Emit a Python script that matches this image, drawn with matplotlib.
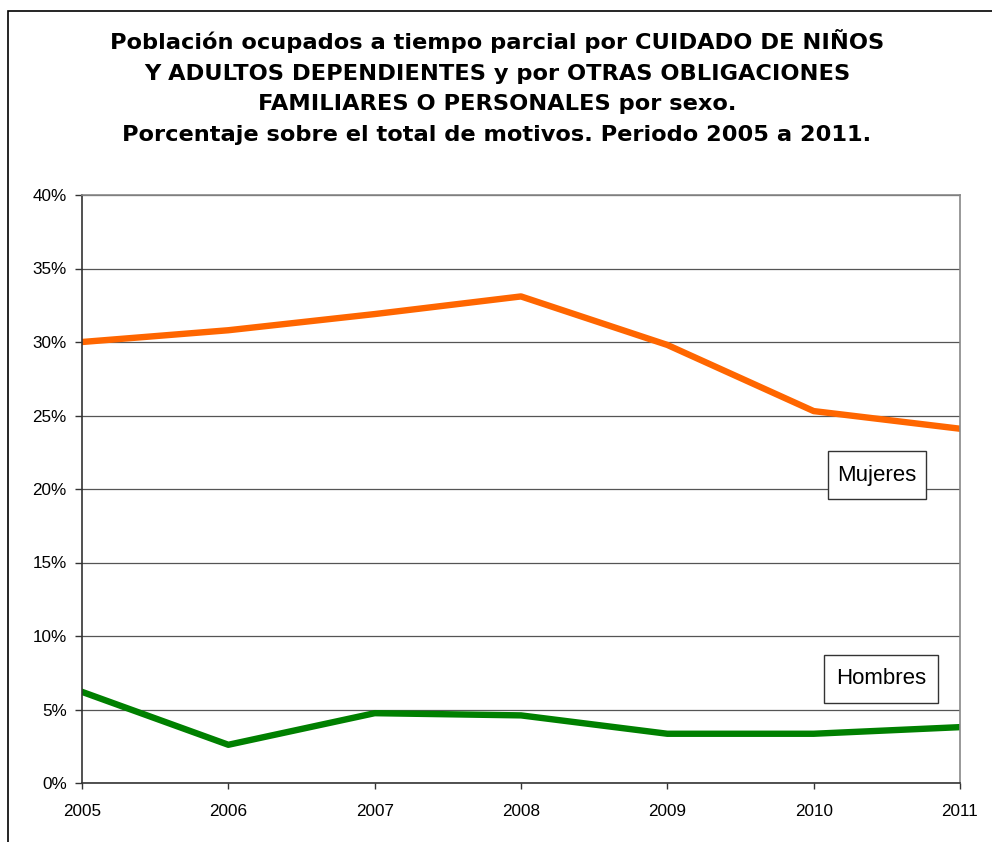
import matplotlib.pyplot as plt
from matplotlib.patches import Rectangle
from matplotlib.ticker import FuncFormatter

plt.rcParams["font.family"] = ["Liberation Sans", "DejaVu Sans"]

anios = [2005, 2006, 2007, 2008, 2009, 2010, 2011]
mujeres = [30.0, 30.8, 31.9, 33.1, 29.8, 25.3, 24.1]
hombres = [6.2, 2.6, 4.75, 4.6, 3.35, 3.35, 3.8]

titulo = ("Población ocupados a tiempo parcial por CUIDADO DE NIÑOS\n"
          "Y ADULTOS DEPENDIENTES y por OTRAS OBLIGACIONES\n"
          "FAMILIARES O PERSONALES por sexo.\n"
          "Porcentaje sobre el total de motivos. Periodo 2005 a 2011.")

W, H = 992, 842
fig = plt.figure(figsize=(W / 100, H / 100), dpi=100)


def px(x0, y0, x1, y1):
    # rectángulo en píxeles (origen arriba a la izquierda) -> coords de figura
    return x0 / W, 1 - y1 / H, (x1 - x0) / W, (y1 - y0) / H


# marco exterior del gráfico (sale por la derecha y por abajo)
fig.patches.append(Rectangle((8 / W, -0.1), 1.2, (H - 11) / H + 0.1,
                             transform=fig.transFigure, fill=False,
                             edgecolor="black", linewidth=1.2))

ax = fig.add_axes(px(82, 195, 960, 783))

ax.plot(anios, mujeres, color="#FF6600", linewidth=4.6)
ax.plot(anios, hombres, color="#008000", linewidth=4.6)

ax.set_xlim(2005, 2011)
ax.set_ylim(0, 40)
ax.set_xticks(anios)
ax.set_yticks(range(0, 41, 5))
ax.yaxis.set_major_formatter(FuncFormatter(lambda v, p: f"{v:.0f}%"))
ax.grid(axis="y", color="#555555", linewidth=0.9)
ax.set_axisbelow(True)

for lado in ("left", "bottom"):
    ax.spines[lado].set_color("#333333")
    ax.spines[lado].set_linewidth(1.2)
for lado in ("top", "right"):
    ax.spines[lado].set_color("#888888")
    ax.spines[lado].set_linewidth(1.2)

ax.tick_params(axis="y", direction="out", length=5, width=1, color="#333333",
               labelsize=12.3, pad=6)
ax.tick_params(axis="x", direction="out", length=4, width=1, color="#333333",
               labelsize=12.3, pad=11)

# etiquetas de serie en cajas
for (x0, y0, x1, y1), txt in [((828, 451, 926, 499), "Mujeres"),
                              ((824, 655, 938, 703), "Hombres")]:
    fig.patches.append(Rectangle(px(x0, y0, x1, y1)[:2], *px(x0, y0, x1, y1)[2:],
                                 transform=fig.transFigure, facecolor="white",
                                 edgecolor="#333333", linewidth=1, zorder=5))
    fig.text((x0 + x1) / 2 / W, 1 - (y0 + y1) / 2 / H, txt, ha="center",
             va="center", fontsize=16, zorder=6)

fig.text(497 / W, 1 - 87 / H, titulo, ha="center", va="center",
         fontsize=16.2, fontweight="bold", linespacing=1.68,
         family=["DejaVu Sans"])

fig.savefig("out.png", dpi=100)
